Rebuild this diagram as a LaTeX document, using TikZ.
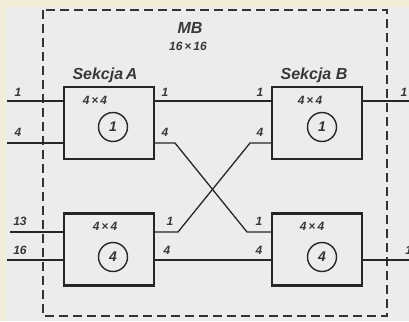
\documentclass[tikz,border=0pt]{standalone}
\usepackage{fontspec}
\setmainfont{Liberation Sans}
\newcommand{\fsz}[1]{\fontsize{#1}{#1}\selectfont}
\begin{document}
\begin{tikzpicture}[x=1pt,y=-1pt,
  ink/.style={draw=black!85, line width=1.3pt},
  blk/.style={draw=black!85, line width=2.2pt, minimum width=90pt, minimum height=72pt, inner sep=0pt},
  ring/.style={draw=black!85, line width=1.4pt, circle, minimum size=29pt, inner sep=0pt, font=\itshape\bfseries\fsz{14}, text=black!80},
  lbl/.style={font=\itshape\bfseries\fsz{12}, text=black!78, inner sep=0pt},
  big/.style={font=\itshape\bfseries\fsz{16}, text=black!78, inner sep=0pt},
  frame/.style={draw=black!80, line width=1.3pt, dash pattern=on 9pt off 5pt}]
\clip (0,0) rectangle (409,321);
\fill[fill={rgb,255:red,242;green,238;blue,218}] (0,0) rectangle (409,321);
\fill[fill={rgb,255:red,236;green,236;blue,234}] (6,7) rectangle (409,321);
\draw[frame] (43,10) rectangle (387,316);
% boxes
\node[blk] (a1) at (109,123) {};
\node[blk] (b1) at (317,123) {};
\node[blk] (a2) at (109,249.5) {};
\node[blk] (b2) at (317,249.5) {};
% circles
\node[ring] (ca1) at (113,127) {1};
\node[ring] (cb1) at (322,127) {1};
\node[ring] (ca2) at (113,257) {4};
\node[ring] (cb2) at (322,257) {4};
% 4x4 labels
\node[lbl] (ta1) at (95,100) {4\,×\,4};
\node[lbl] (tb1) at (310,100) {4\,×\,4};
\node[lbl] (ta2) at (105,226) {4\,×\,4};
\node[lbl] (tb2) at (312,226) {4\,×\,4};
% titles
\node[big] (mb) at (190,28) {MB};
\node[lbl] (mbs) at (188,46) {16\,×\,16};
\node[big] (sa) at (105,75) {Sekcja\,A};
\node[big] (sb) at (314,75) {Sekcja B};
% port coordinates
\coordinate (in1) at (7,101);
\coordinate (in4) at (7,143);
\coordinate (in13) at (10,232);
\coordinate (in16) at (7,260);
\coordinate (out1) at (409,101);
\coordinate (out16) at (409,260);
\coordinate (k1) at (175,143);
\coordinate (k2) at (247,232);
\coordinate (k3) at (178,232);
\coordinate (k4) at (250,143);
% inputs
\draw[ink] (in1) -- (a1.west |- in1);
\draw[ink] (in4) -- (a1.west |- in4);
\draw[ink] (in13) -- (a2.west |- in13);
\draw[ink] (in16) -- (a2.west |- in16);
% outputs
\draw[ink] (b1.east |- out1) -- (out1);
\draw[ink] (b2.east |- out16) -- (out16);
% between sections
\draw[ink] (a1.east |- in1) -- (b1.west |- in1);
\draw[ink] (a2.east |- in16) -- (b2.west |- in16);
\draw[ink] (a1.east |- k1) -- (k1) -- (k2) -- (b2.west |- k2);
\draw[ink] (a2.east |- k3) -- (k3) -- (k4) -- (b1.west |- k4);
% port labels
\node[lbl] (l1) at (18,92) {1};
\node[lbl] (l4) at (18,132) {4};
\node[lbl] (l13) at (20,221) {13};
\node[lbl] (l16) at (20,250) {16};
\node[lbl] (r1) at (404,92) {1};
\node[lbl] (r16) at (412,250) {16};
\node[lbl] (a1p1) at (165,92) {1};
\node[lbl] (a1p4) at (165,132) {4};
\node[lbl] (b1p1) at (260,92) {1};
\node[lbl] (b1p4) at (260,132) {4};
\node[lbl] (a2p1) at (170,221) {1};
\node[lbl] (a2p4) at (167,250) {4};
\node[lbl] (b2p1) at (259,221) {1};
\node[lbl] (b2p4) at (259,250) {4};
\end{tikzpicture}
\end{document}
